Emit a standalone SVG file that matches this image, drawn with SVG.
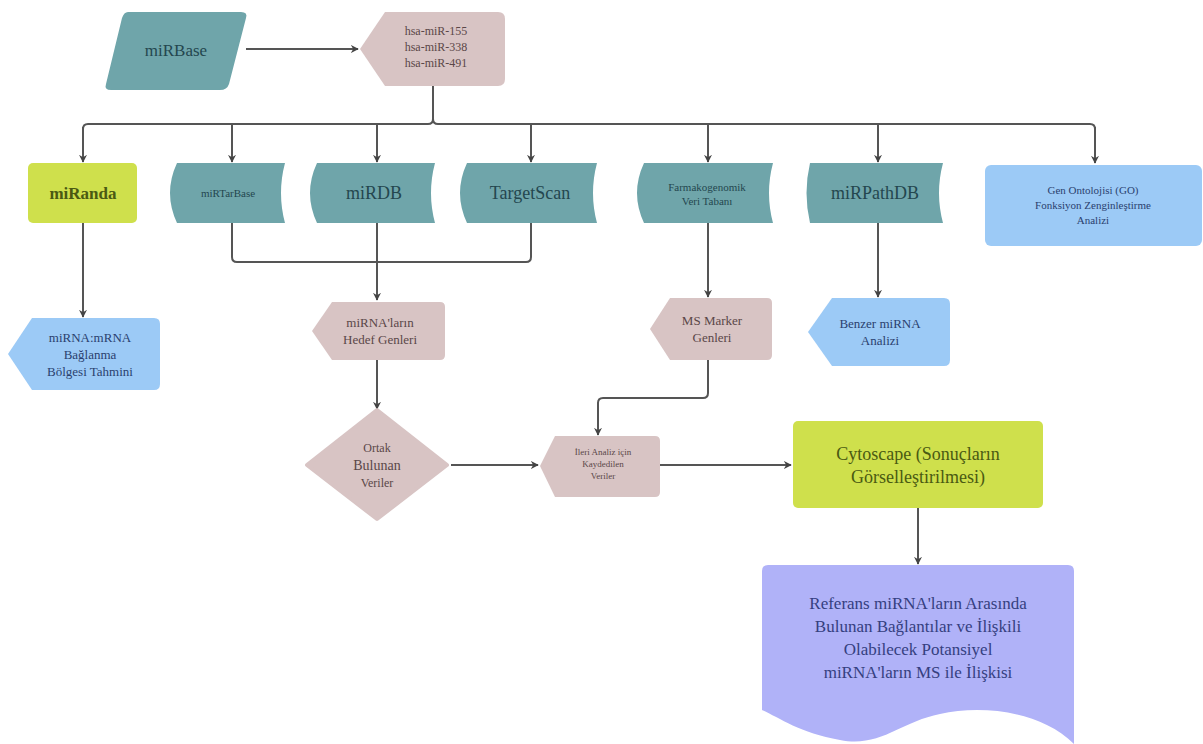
<svg xmlns="http://www.w3.org/2000/svg" width="1203" height="744" viewBox="0 0 1203 744">
<defs>
<marker id="arr" viewBox="0 0 10 10" refX="9" refY="5" markerWidth="8" markerHeight="8" markerUnits="userSpaceOnUse" orient="auto">
<path d="M0,0 L10,5 L0,10 L3,5 Z" fill="#444"/>
</marker>
<style>
.teal{fill:#6fa5aa}
.pink{fill:#d8c4c4}
.lime{fill:#cfe04c}
.blue{fill:#9ccaf6}
.lav{fill:#b0b2f8}
.c{stroke:#555;stroke-width:2;fill:none}
.ca{stroke:#555;stroke-width:2;fill:none;marker-end:url(#arr)}
.tt{fill:#24474f}
.tp{fill:#5a4748}
.tl{fill:#4a5a12}
.tb{fill:#2a3f6e}
.tv{fill:#353f80}
</style>
</defs>
<g id="connectors">
<line class="ca" x1="246" y1="49" x2="358" y2="49"/>
<path class="c" d="M433,86 V119 Q433,124 428,124 H88 Q83,124 83,129"/>
<path class="c" d="M433,119 Q433,124 438,124 H1090 Q1095,124 1095,129"/>
<line class="ca" x1="83" y1="127" x2="83" y2="162"/>
<line class="ca" x1="232" y1="124" x2="232" y2="162"/>
<line class="ca" x1="377" y1="124" x2="377" y2="162"/>
<line class="ca" x1="531" y1="124" x2="531" y2="162"/>
<line class="ca" x1="708" y1="124" x2="708" y2="162"/>
<line class="ca" x1="878" y1="124" x2="878" y2="162"/>
<line class="ca" x1="1095" y1="127" x2="1095" y2="163"/>
<path class="c" d="M232,223 V257 Q232,262 237,262 H526 Q531,262 531,257 V223"/>
<line class="ca" x1="377" y1="223" x2="377" y2="300"/>
<line class="ca" x1="83" y1="223" x2="83" y2="317"/>
<line class="ca" x1="708" y1="222" x2="708" y2="297"/>
<line class="ca" x1="878" y1="222" x2="878" y2="297"/>
<line class="ca" x1="377" y1="360" x2="377" y2="409"/>
<path class="ca" d="M708,360 V393 Q708,398 703,398 H603 Q598,398 598,403 V435"/>
<line class="ca" x1="451" y1="465" x2="538" y2="465"/>
<line class="ca" x1="660" y1="465" x2="791" y2="465"/>
<line class="ca" x1="918" y1="508" x2="918" y2="564"/>
</g>
<g font-family="'Liberation Serif', 'Times New Roman', 'DejaVu Serif', serif" text-anchor="middle">
<g id="mirbase">
<path class="teal" d="M128,12 H241 Q248,12 246,18 L229,84 Q227,90 220,90 H111 Q104,90 106,84 L122,18 Q124,12 128,12 Z"/>
<text class="tt" x="176" y="56" font-size="17">miRBase</text>
</g>
<g id="hsa">
<path class="pink" d="M360,49 L385,12 H498 Q505,12 505,19 V79 Q505,86 498,86 H385 Z"/>
<text class="tp" x="436" y="35" font-size="12">hsa-miR-155</text>
<text class="tp" x="436" y="51" font-size="12">hsa-miR-338</text>
<text class="tp" x="436" y="67" font-size="12">hsa-miR-491</text>
</g>
<g id="miranda">
<rect class="lime" x="28" y="163" width="109" height="60" rx="5"/>
<text class="tl" x="83" y="199" font-size="17" font-weight="bold">miRanda</text>
</g>
<g id="mirtarbase">
<path class="teal" d="M177,163 H285 Q277,193 285,223 H177 Q163,193 177,163 Z"/>
<text class="tt" x="228" y="197" font-size="11">miRTarBase</text>
</g>
<g id="mirdb">
<path class="teal" d="M317,163 H435 Q427,193 435,223 H317 Q303,193 317,163 Z"/>
<text class="tt" x="374" y="199" font-size="18">miRDB</text>
</g>
<g id="targetscan">
<path class="teal" d="M467,163 H597 Q589,193 597,223 H467 Q453,193 467,163 Z"/>
<text class="tt" x="530" y="199" font-size="18">TargetScan</text>
</g>
<g id="farmako">
<path class="teal" d="M644,163 H773 Q765,193 773,223 H644 Q630,193 644,163 Z"/>
<text class="tt" x="707" y="191" font-size="11">Farmakogenomik</text>
<text class="tt" x="707" y="205" font-size="11">Veri Tabanı</text>
</g>
<g id="mirpathdb">
<path class="teal" d="M810,163 H943 Q935,193 943,223 H810 Q803,193 810,163 Z"/>
<text class="tt" x="875" y="199" font-size="18">miRPathDB</text>
</g>
<g id="go">
<rect class="blue" x="985" y="165" width="217" height="81" rx="6"/>
<text class="tb" x="1093" y="194" font-size="11">Gen Ontolojisi (GO)</text>
<text class="tb" x="1093" y="209" font-size="11">Fonksiyon Zenginleştirme</text>
<text class="tb" x="1093" y="224" font-size="11">Analizi</text>
</g>
<g id="bolge">
<path class="blue" d="M8,354 L32,318 H154 Q160,318 160,324 V384 Q160,390 154,390 H32 Z"/>
<text class="tb" x="90" y="342" font-size="13">miRNA:mRNA</text>
<text class="tb" x="90" y="359" font-size="13">Bağlanma</text>
<text class="tb" x="90" y="376" font-size="13">Bölgesi Tahmini</text>
</g>
<g id="hedef">
<path class="pink" d="M312,331 L332,302 H440 Q445,302 445,307 V355 Q445,360 440,360 H332 Z"/>
<text class="tp" x="380" y="327" font-size="13">miRNA'ların</text>
<text class="tp" x="380" y="344" font-size="13">Hedef Genleri</text>
</g>
<g id="msmarker">
<path class="pink" d="M650,329 L670,298 H767 Q772,298 772,303 V355 Q772,360 767,360 H670 Z"/>
<text class="tp" x="712" y="325" font-size="13">MS Marker</text>
<text class="tp" x="712" y="342" font-size="13">Genleri</text>
</g>
<g id="benzer">
<path class="blue" d="M808,332 L832,298 H944 Q950,298 950,304 V360 Q950,366 944,366 H832 Z"/>
<text class="tb" x="880" y="328" font-size="13">Benzer miRNA</text>
<text class="tb" x="880" y="345" font-size="13">Analizi</text>
</g>
<g id="ortak">
<path class="pink" d="M377,410 L447,465 L377,519 L307,465 Z" stroke="#d8c4c4" stroke-width="4" stroke-linejoin="round"/>
<text class="tp" x="377" y="452" font-size="12">Ortak</text>
<text class="tp" x="377" y="470" font-size="14">Bulunan</text>
<text class="tp" x="377" y="487" font-size="12">Veriler</text>
</g>
<g id="ileri">
<path class="pink" d="M540,466 L555,436 H655 Q660,436 660,441 V492 Q660,497 655,497 H555 Z"/>
<text class="tp" x="603" y="455" font-size="9">İleri Analiz için</text>
<text class="tp" x="603" y="467" font-size="9">Kaydedilen</text>
<text class="tp" x="603" y="479" font-size="9">Veriler</text>
</g>
<g id="cytoscape">
<rect class="lime" x="793" y="421" width="250" height="87" rx="5"/>
<text class="tl" x="918" y="460" font-size="18">Cytoscape (Sonuçların</text>
<text class="tl" x="918" y="483" font-size="18">Görselleştirilmesi)</text>
</g>
<g id="sonuc">
<path class="lav" d="M768,565 H1068 Q1074,565 1074,571 V744 C1040,710 980,705 940,714 C900,722 880,748 840,740 C800,733 780,718 762,710 V571 Q762,565 768,565 Z"/>
<text class="tv" x="918" y="609" font-size="17">Referans miRNA'ların Arasında</text>
<text class="tv" x="918" y="632" font-size="17">Bulunan Bağlantılar ve İlişkili</text>
<text class="tv" x="918" y="655" font-size="17">Olabilecek Potansiyel</text>
<text class="tv" x="918" y="678" font-size="17">miRNA'ların MS ile İlişkisi</text>
</g>
</g>
</svg>
